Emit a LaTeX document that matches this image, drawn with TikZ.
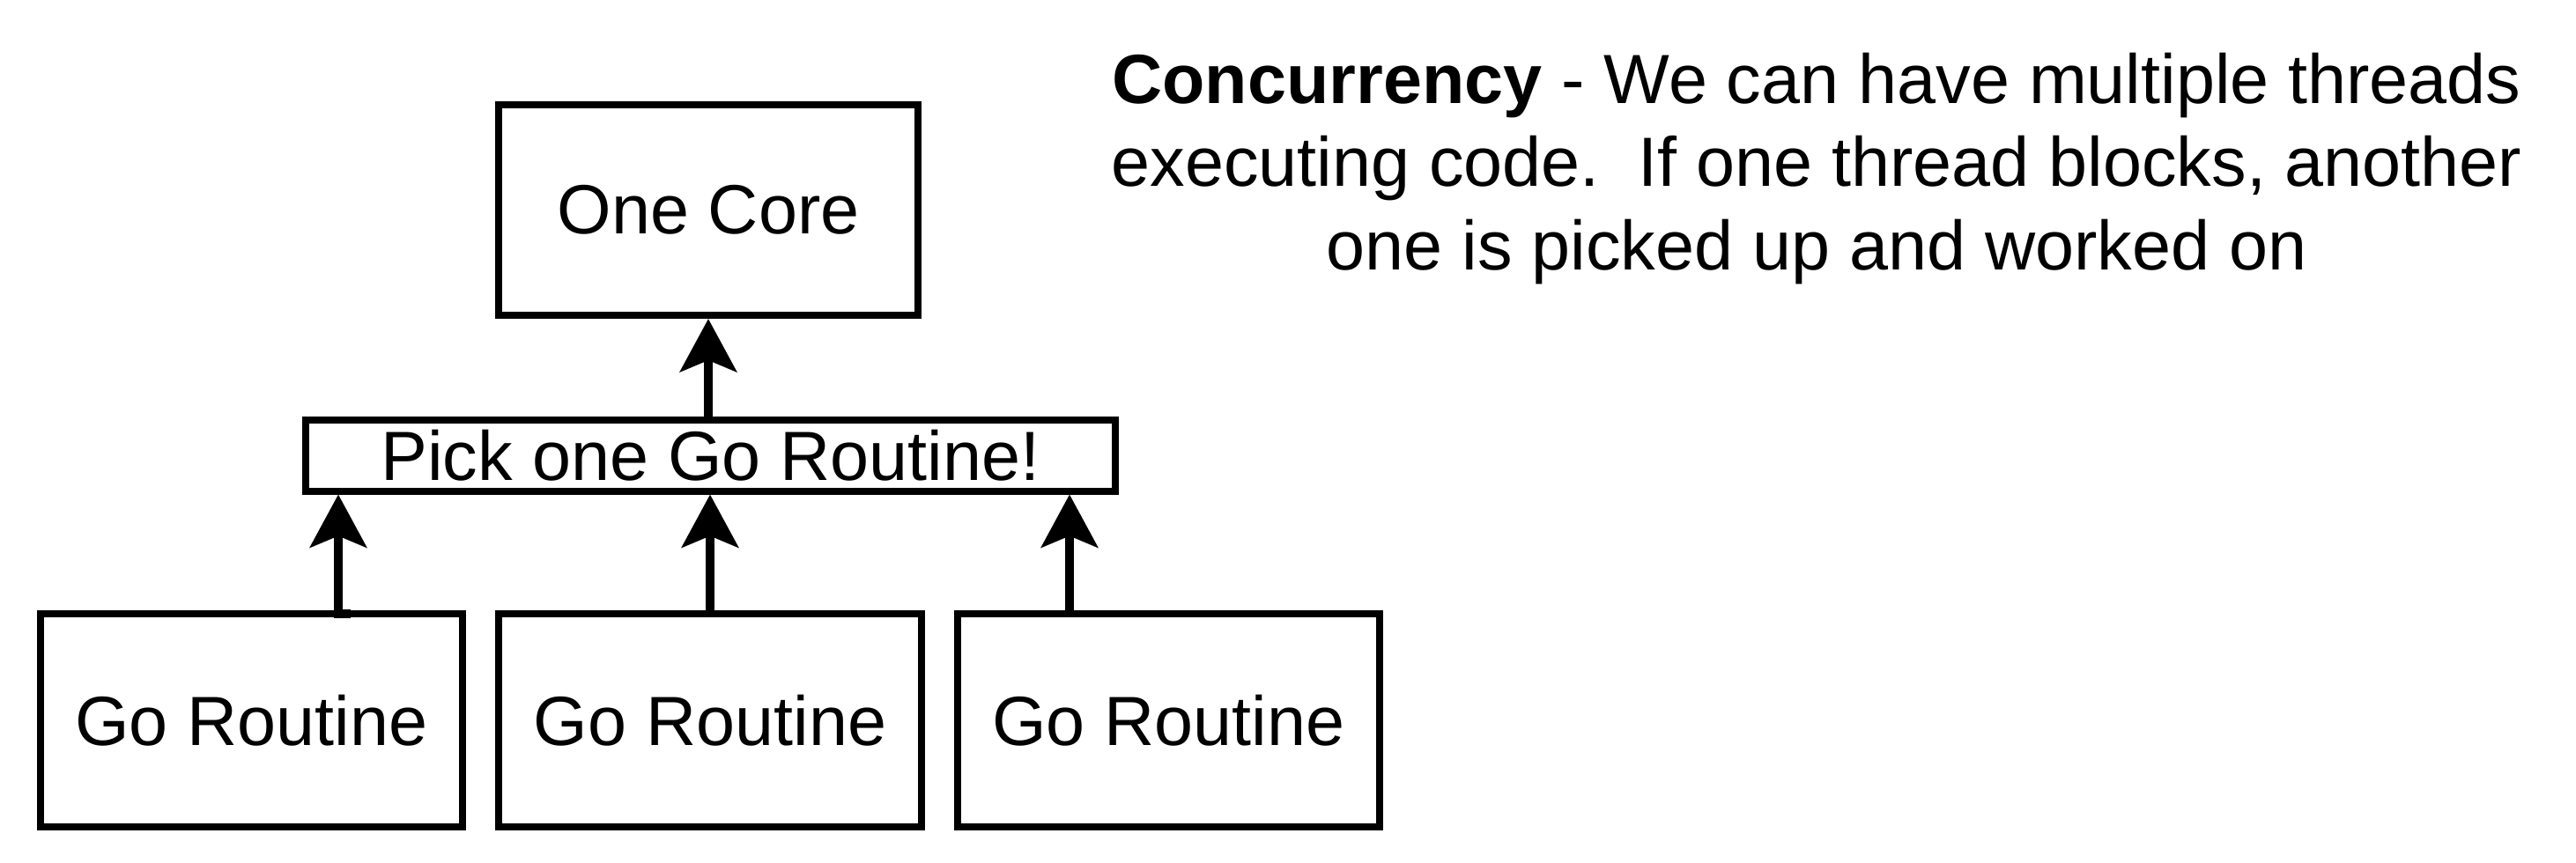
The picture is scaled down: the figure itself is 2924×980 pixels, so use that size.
\documentclass[tikz,border=0pt]{standalone}
\usepackage{fontspec}
\setmainfont{Liberation Sans}
\usetikzlibrary{arrows.meta}
\begin{document}
\begin{tikzpicture}[x=0.01cm,y=-0.01cm,
  box/.style={draw=black,line width=0.08cm,inner sep=0pt,font=\fontsize{22.5}{26}\selectfont},
  conn/.style={line width=0.1cm,-{Stealth[length=0.6cm,width=0.64cm,inset=0.13cm]}}]
\useasboundingbox (0,0) rectangle (2924,980);
\node[box,minimum width=4.76cm,minimum height=2.39cm] (core) at (804,238.5) {One Core};
\node[box,minimum width=9.19cm,minimum height=0.80cm] (pick) at (806.5,517.5) {Pick one Go Routine!};
\node[box,minimum width=4.79cm,minimum height=2.42cm] (g1) at (285.5,818) {Go Routine};
\node[box,minimum width=4.80cm,minimum height=2.42cm] (g2) at (806,818) {Go Routine};
\node[box,minimum width=4.79cm,minimum height=2.42cm] (g3) at (1326.5,818) {Go Routine};
\coordinate (j1) at (398,697);
\draw[conn] (pick.north -| core.south) -- (core.south);
\draw[conn] (j1) -- (384,697) -- (pick.south -| 384,0);
\draw[conn] (g2.north) -- (pick.south -| g2.north);
\draw[conn] (g3.north -| 1214,0) -- (pick.south -| 1214,0);
\node[anchor=north,align=center,inner sep=0pt,font=\fontsize{22.5}{27}\selectfont] (txt) at (2062,59)
  {\textbf{Concurrency} - We can have multiple threads\\executing code.\ \ If one thread blocks, another\\one is picked up and worked on};
\end{tikzpicture}
\end{document}
